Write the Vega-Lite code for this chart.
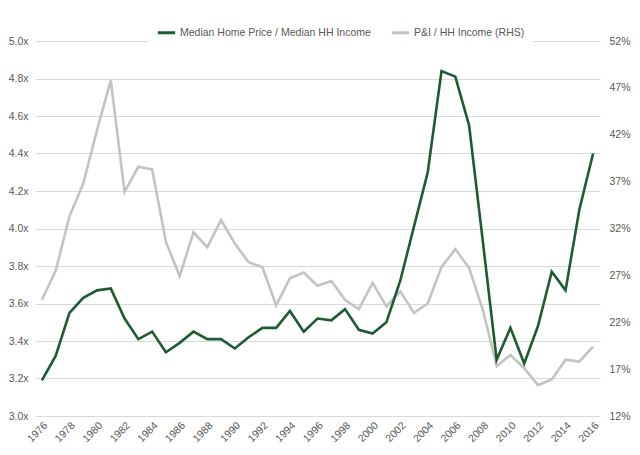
{
  "$schema": "https://vega.github.io/schema/vega-lite/v6.json",
  "width": 565,
  "height": 375,
  "autosize": {"type": "none"},
  "padding": {"left": 35, "top": 41, "right": 40, "bottom": 39},
  "background": "white",
  "config": {
    "font": "Liberation Sans",
    "view": {"stroke": null},
    "axis": {"labelColor": "#595959", "labelFontSize": 10.5, "ticks": false, "domain": false, "titleColor": "#595959"}
  },
  "data": {
    "values": [
      {"year": 1976, "home": 3.19, "pi": 24.4},
      {"year": 1977, "home": 3.32, "pi": 27.5},
      {"year": 1978, "home": 3.55, "pi": 33.3},
      {"year": 1979, "home": 3.63, "pi": 36.8},
      {"year": 1980, "home": 3.67, "pi": 42.5},
      {"year": 1981, "home": 3.68, "pi": 47.8},
      {"year": 1982, "home": 3.52, "pi": 35.9},
      {"year": 1983, "home": 3.41, "pi": 38.6},
      {"year": 1984, "home": 3.45, "pi": 38.3},
      {"year": 1985, "home": 3.34, "pi": 30.6},
      {"year": 1986, "home": 3.39, "pi": 26.9},
      {"year": 1987, "home": 3.45, "pi": 31.6},
      {"year": 1988, "home": 3.41, "pi": 30.0},
      {"year": 1989, "home": 3.41, "pi": 32.9},
      {"year": 1990, "home": 3.36, "pi": 30.4},
      {"year": 1991, "home": 3.42, "pi": 28.4},
      {"year": 1992, "home": 3.47, "pi": 27.9},
      {"year": 1993, "home": 3.47, "pi": 23.8},
      {"year": 1994, "home": 3.56, "pi": 26.7},
      {"year": 1995, "home": 3.45, "pi": 27.3},
      {"year": 1996, "home": 3.52, "pi": 25.9},
      {"year": 1997, "home": 3.51, "pi": 26.4},
      {"year": 1998, "home": 3.57, "pi": 24.4},
      {"year": 1999, "home": 3.46, "pi": 23.4},
      {"year": 2000, "home": 3.44, "pi": 26.2},
      {"year": 2001, "home": 3.50, "pi": 23.7},
      {"year": 2002, "home": 3.72, "pi": 25.3},
      {"year": 2003, "home": 4.01, "pi": 23.0},
      {"year": 2004, "home": 4.30, "pi": 24.0},
      {"year": 2005, "home": 4.84, "pi": 27.9},
      {"year": 2006, "home": 4.81, "pi": 29.8},
      {"year": 2007, "home": 4.55, "pi": 27.8},
      {"year": 2008, "home": 3.93, "pi": 23.3},
      {"year": 2009, "home": 3.30, "pi": 17.3},
      {"year": 2010, "home": 3.47, "pi": 18.5},
      {"year": 2011, "home": 3.28, "pi": 17.1},
      {"year": 2012, "home": 3.48, "pi": 15.3},
      {"year": 2013, "home": 3.77, "pi": 15.9},
      {"year": 2014, "home": 3.67, "pi": 18.0},
      {"year": 2015, "home": 4.10, "pi": 17.8},
      {"year": 2016, "home": 4.40, "pi": 19.4}
    ]
  },
  "encoding": {
    "x": {
      "field": "year",
      "type": "ordinal",
      "scale": {"type": "point", "padding": 0.5},
      "axis": {
        "title": null,
        "labelAngle": -45,
        "labelPadding": 4,
        "grid": false,
        "values": [1976,1978,1980,1982,1984,1986,1988,1990,1992,1994,1996,1998,2000,2002,2004,2006,2008,2010,2012,2014,2016]
      }
    }
  },
  "layer": [
    {
      "mark": {"type": "line", "strokeWidth": 2.6},
      "encoding": {
        "y": {
          "field": "pi",
          "type": "quantitative",
          "scale": {"domain": [12, 52], "nice": false, "zero": false},
          "axis": {
            "orient": "right",
            "title": null,
            "grid": false,
            "values": [12,17,22,27,32,37,42,47,52],
            "labelExpr": "datum.value + '%'",
            "labelPadding": 9
          }
        },
        "color": {"datum": "P&I / HH Income (RHS)"}
      }
    },
    {
      "mark": {"type": "line", "strokeWidth": 2.6},
      "encoding": {
        "y": {
          "field": "home",
          "type": "quantitative",
          "scale": {"domain": [3, 5], "nice": false, "zero": false},
          "axis": {
            "orient": "left",
            "title": null,
            "grid": true,
            "gridColor": "#d9d9d9",
            "gridWidth": 1,
            "values": [3.0,3.2,3.4,3.6,3.8,4.0,4.2,4.4,4.6,4.8,5.0],
            "labelExpr": "format(datum.value, '.1f') + 'x'",
            "labelPadding": 7
          }
        },
        "color": {
          "datum": "Median Home Price / Median HH Income",
          "scale": {
            "domain": ["Median Home Price / Median HH Income", "P&I / HH Income (RHS)"],
            "range": ["#1e5b33", "#c3c3c3"]
          },
          "legend": {
            "orient": "none",
            "legendX": 113,
            "legendY": -27,
            "title": null,
            "direction": "horizontal",
            "symbolType": "stroke",
            "symbolStrokeWidth": 3,
            "symbolSize": 300,
            "labelFontSize": 10.5,
            "labelColor": "#595959",
            "labelLimit": 400,
            "labelOffset": 3,
            "columnPadding": 14,
            "fillColor": "white",
            "padding": 8
          }
        }
      }
    }
  ],
  "resolve": {"scale": {"y": "independent"}}
}
